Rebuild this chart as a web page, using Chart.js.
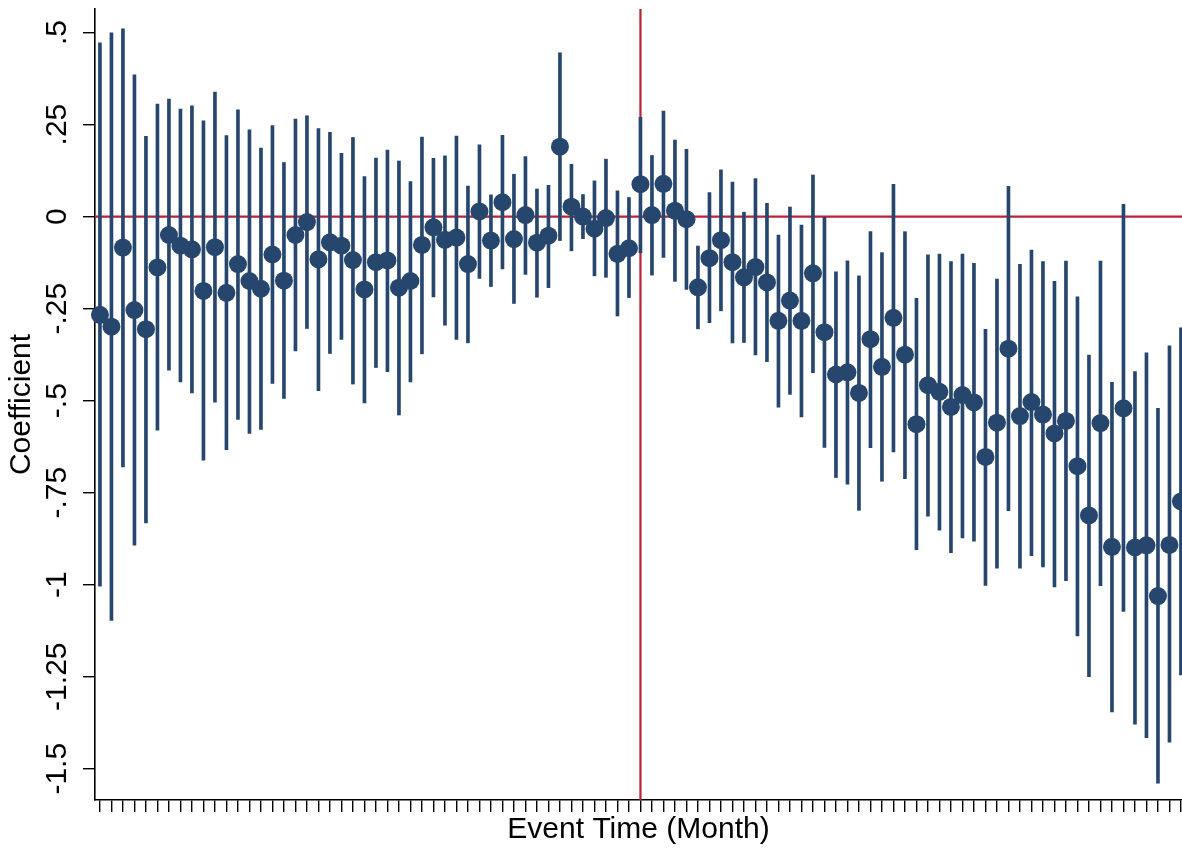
<!DOCTYPE html>
<html>
<head>
<meta charset="utf-8">
<title>Event study</title>
<script src="https://cdn.jsdelivr.net/npm/chart.js@4.4.1/dist/chart.umd.min.js"></script>
<style>
  html, body { margin: 0; padding: 0; background: #fff; }
</style>
</head>
<body>
<canvas id="chart" width="1182" height="848"></canvas>
<script>
// event time in months, relative to the event
const eventTime = [
  -47, -46, -45, -44, -43, -42, -41, -40, -39, -38, -37, -36, -35, -34, -33, -32,
  -31, -30, -29, -28, -27, -26, -25, -24, -23, -22, -21, -20, -19, -18, -17, -16,
  -15, -14, -13, -12, -11, -10, -9, -8, -7, -6, -5, -4, -3, -2, -1,
  0, 1, 2, 3, 4, 5, 6, 7, 8, 9, 10, 11, 12, 13, 14, 15, 16,
  17, 18, 19, 20, 21, 22, 23, 24, 25, 26, 27, 28, 29, 30, 31, 32,
  33, 34, 35, 36, 37, 38, 39, 40, 41, 42, 43, 44, 45, 46, 47
];

const coef = [
  -0.267, -0.299, -0.084, -0.254, -0.306, -0.138, -0.050, -0.079, -0.089, -0.202, -0.083, -0.207, -0.129, -0.175, -0.196, -0.103,
  -0.174, -0.050, -0.015, -0.116, -0.070, -0.079, -0.118, -0.198, -0.124, -0.119, -0.193, -0.175, -0.077, -0.029, -0.063, -0.057,
  -0.129, 0.014, -0.065, 0.039, -0.061, 0.004, -0.071, -0.052, 0.190, 0.027, 0.000, -0.033, -0.004, -0.101, -0.086,
  0.088, 0.004, 0.089, 0.016, -0.007, -0.192, -0.113, -0.064, -0.124, -0.165, -0.137, -0.179, -0.283, -0.228, -0.283, -0.154, -0.314,
  -0.429, -0.423, -0.479, -0.333, -0.408, -0.275, -0.375, -0.564, -0.458, -0.476, -0.517, -0.485, -0.505, -0.653, -0.560, -0.359,
  -0.542, -0.504, -0.538, -0.589, -0.555, -0.678, -0.812, -0.561, -0.897, -0.521, -0.899, -0.893, -1.031, -0.892, -0.774
];

const ciHigh = [
  0.472, 0.499, 0.510, 0.385, 0.218, 0.306, 0.319, 0.292, 0.301, 0.260, 0.338, 0.220, 0.290, 0.236, 0.186, 0.247,
  0.147, 0.265, 0.274, 0.239, 0.229, 0.172, 0.215, 0.109, 0.159, 0.181, 0.151, 0.095, 0.216, 0.158, 0.165, 0.219,
  0.083, 0.195, 0.059, 0.221, 0.115, 0.163, 0.075, 0.085, 0.445, 0.142, 0.060, 0.097, 0.156, 0.070, 0.052,
  0.270, 0.166, 0.287, 0.208, 0.183, -0.080, 0.065, 0.127, 0.094, 0.012, 0.103, 0.036, -0.050, 0.026, -0.023, 0.113, 0.000,
  -0.150, -0.120, -0.161, -0.041, -0.098, 0.088, -0.041, -0.222, -0.104, -0.102, -0.122, -0.102, -0.127, -0.306, -0.170, 0.082,
  -0.130, -0.091, -0.122, -0.176, -0.121, -0.218, -0.376, -0.121, -0.450, 0.033, -0.421, -0.370, -0.521, -0.351, -0.302
];

const ciLow = [
  -1.004, -1.097, -0.680, -0.893, -0.832, -0.580, -0.417, -0.449, -0.479, -0.662, -0.504, -0.633, -0.551, -0.589, -0.578, -0.453,
  -0.494, -0.365, -0.304, -0.473, -0.372, -0.334, -0.455, -0.506, -0.410, -0.421, -0.539, -0.449, -0.373, -0.218, -0.295, -0.334,
  -0.343, -0.168, -0.190, -0.142, -0.236, -0.157, -0.219, -0.193, -0.065, -0.093, -0.060, -0.161, -0.165, -0.270, -0.220,
  -0.098, -0.159, -0.111, -0.176, -0.198, -0.305, -0.288, -0.256, -0.343, -0.342, -0.376, -0.394, -0.518, -0.483, -0.544, -0.424, -0.627,
  -0.709, -0.727, -0.798, -0.628, -0.719, -0.639, -0.712, -0.905, -0.814, -0.852, -0.913, -0.873, -0.882, -1.002, -0.955, -0.799,
  -0.955, -0.921, -0.952, -1.006, -0.989, -1.139, -1.250, -1.003, -1.346, -1.073, -1.379, -1.416, -1.539, -1.428, -1.245
];

const yTickValues = [-1.5, -1.25, -1, -0.75, -0.5, -0.25, 0, 0.25, 0.5];
const yTickLabels = ['-1.5', '-1.25', '-1', '-.75', '-.5', '-.25', '0', '.25', '.5'];

const navy = '#26466d';
const red = '#bb2236';

Chart.defaults.font.family = '"Liberation Sans", Arial, Helvetica, sans-serif';
Chart.defaults.font.size = 30;
Chart.defaults.color = '#000';

// red reference lines at event time 0 and coefficient 0
const refLines = {
  id: 'refLines',
  beforeDatasetsDraw(chart) {
    const {ctx, chartArea, scales} = chart;
    const x0 = scales.x.getPixelForValue(0);
    const y0 = scales.y.getPixelForValue(0);
    ctx.save();
    ctx.strokeStyle = red;
    ctx.lineWidth = 2.2;
    ctx.beginPath();
    ctx.moveTo(chartArea.left, y0);
    ctx.lineTo(chartArea.right, y0);
    ctx.moveTo(x0, chartArea.top);
    ctx.lineTo(x0, chartArea.bottom);
    ctx.stroke();
    ctx.restore();
  }
};

const points = eventTime.map((t, i) => ({x: t, y: coef[i]}));
const bars = eventTime.map((t, i) => ({x: t, y: [ciLow[i], ciHigh[i]]}));

new Chart(document.getElementById('chart'), {
  type: 'bar',
  data: {
    datasets: [
      {
        type: 'scatter',
        data: points,
        backgroundColor: navy,
        borderWidth: 0,
        pointRadius: 9,
        pointHoverRadius: 9,
        clip: false,
        order: 0
      },
      {
        type: 'bar',
        data: bars,
        backgroundColor: navy,
        borderWidth: 0,
        barThickness: 3,
        clip: false,
        order: 1
      }
    ]
  },
  options: {
    responsive: false,
    devicePixelRatio: 1,
    animation: false,
    layout: { autoPadding: false, padding: { top: 9, right: 0, bottom: 0, left: 0 } },
    plugins: {
      legend: { display: false },
      tooltip: { enabled: false }
    },
    scales: {
      x: {
        type: 'linear',
        min: -47.43,
        max: 47.09,
        offset: false,
        afterBuildTicks: (scale) => { scale.ticks = eventTime.map(v => ({value: v})); },
        afterFit: (scale) => {
          scale.height = 48;
          scale.paddingLeft = 0;
          scale.paddingRight = 0;
        },
        ticks: {
          autoSkip: false,
          includeBounds: false,
          callback: () => ''
        },
        grid: {
          offset: false,
          drawOnChartArea: false,
          drawTicks: true,
          tickLength: 12,
          color: '#000',
          lineWidth: 1.4
        },
        border: { display: true, color: '#000', width: 1.6 },
        title: {
          display: true,
          text: 'Event Time (Month)',
          padding: { top: 0, bottom: 0 },
          font: { size: 30 }
        }
      },
      y: {
        type: 'linear',
        min: -1.585,
        max: 0.564,
        afterBuildTicks: (scale) => { scale.ticks = yTickValues.map(v => ({value: v})); },
        afterFit: (scale) => {
          scale.width = 95;
          scale.paddingTop = 0;
          scale.paddingBottom = 0;
        },
        ticks: {
          minRotation: 90,
          maxRotation: 90,
          crossAlign: 'center',
          padding: -9,
          callback: (value, index) => yTickLabels[index]
        },
        grid: {
          drawOnChartArea: false,
          drawTicks: true,
          tickLength: 12,
          color: '#000',
          lineWidth: 1.4
        },
        border: { display: true, color: '#000', width: 1.6 },
        title: {
          display: true,
          text: 'Coefficient',
          padding: { top: 4, bottom: 0 },
          font: { size: 30 }
        }
      }
    }
  },
  plugins: [refLines]
});
</script>
</body>
</html>
